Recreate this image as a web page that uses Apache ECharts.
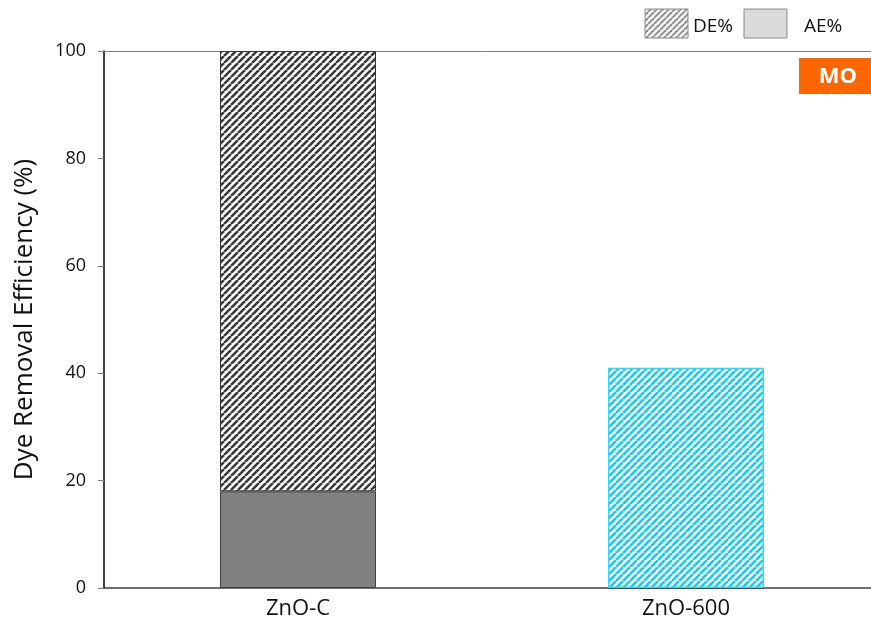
<!DOCTYPE html>
<html>
<head>
<meta charset="utf-8">
<script src="https://cdn.jsdelivr.net/npm/echarts@6/dist/echarts.min.js"></script>
<style>
  html, body { margin: 0; padding: 0; background: #fff; }
  #chart { width: 871px; height: 628px; }
</style>
</head>
<body>
<div id="chart"></div>
<script>
// Samples and removal efficiencies (%)
const categories = ['ZnO-C', 'ZnO-600'];
const aeValues = [18, 0];   // adsorption efficiency
const deValues = [82, 41];  // degradation efficiency (stacked on AE)
const yTicks = [0, 20, 40, 60, 80, 100];
const legendLabels = ['DE%', 'AE%'];
const tagText = 'MO';

const FONT = '"Open Sans", "Noto Sans", sans-serif';

// Diagonal stripe tile used for hatched fills
function stripes(color, bg, period, width) {
  const c = document.createElement('canvas');
  c.width = period; c.height = period;
  const g = c.getContext('2d');
  g.fillStyle = bg; g.fillRect(0, 0, period, period);
  g.strokeStyle = color; g.lineWidth = width;
  for (let k = -1; k <= 1; k++) {
    g.beginPath();
    g.moveTo(k * period, period);
    g.lineTo(k * period + period, 0);
    g.stroke();
  }
  return c;
}

const darkHatch = { image: stripes('#3a3a3a', '#ffffff', 7, 2.6), repeat: 'repeat' };
const cyanHatch = { image: stripes('#11ccf5', '#ffffff', 7, 2.6), repeat: 'repeat' };
const legendHatch = { image: stripes('#8c8c8c', '#f2f2f2', 6, 1.8), repeat: 'repeat' };

const chart = echarts.init(document.getElementById('chart'));

const deData = deValues.map((v, i) => i === 1
  ? { value: v, itemStyle: { color: cyanHatch, borderColor: '#33d6f7', borderWidth: 1.5 } }
  : { value: v });

chart.setOption({
  animation: false,
  backgroundColor: '#ffffff',
  textStyle: { fontFamily: FONT },
  // plot area runs slightly past the right edge of the canvas
  grid: { left: 104, width: 776, top: 51, bottom: 40, containLabel: false, outerBoundsMode: 'none' },
  xAxis: [{
    type: 'category',
    data: categories,
    axisLine: { show: true, lineStyle: { color: '#404040', width: 1.5 } },
    axisTick: { show: false },
    axisLabel: { fontFamily: FONT, fontSize: 22, color: '#111', margin: 10 }
  }, {
    type: 'category',
    position: 'top',
    data: categories,
    axisLine: { show: true, lineStyle: { color: '#7f7f7f', width: 1 } },
    axisTick: { show: false },
    axisLabel: { show: false }
  }],
  yAxis: {
    type: 'value',
    min: yTicks[0],
    max: yTicks[yTicks.length - 1],
    interval: 20,
    name: 'Dye Removal Efficiency (%)',
    nameLocation: 'middle',
    nameGap: 66,
    nameTextStyle: { fontFamily: FONT, fontSize: 26, color: '#111' },
    axisLine: { show: true, lineStyle: { color: '#000', width: 1.5 } },
    axisTick: { show: true, length: 6, lineStyle: { color: '#7f7f7f' } },
    axisLabel: {
      show: true,
      margin: 18,
      fontFamily: FONT,
      fontSize: 18,
      color: '#111'
    },
    splitLine: { show: false }
  },
  series: [{
    name: legendLabels[1],
    type: 'bar',
    stack: 'total',
    barWidth: 156,
    data: aeValues,
    itemStyle: { color: '#808080', borderColor: '#404040', borderWidth: 1 }
  }, {
    name: legendLabels[0],
    type: 'bar',
    stack: 'total',
    barWidth: 156,
    data: deData,
    itemStyle: { color: darkHatch, borderColor: '#333333', borderWidth: 1 }
  }],
  graphic: [
    { type: 'rect', shape: { x: 645, y: 9, width: 43, height: 29 },
      style: { fill: legendHatch, stroke: '#8c8c8c', lineWidth: 1 } },
    { type: 'text', x: 693, y: 27, style: { text: legendLabels[0], font: '19px ' + FONT, fill: '#111', verticalAlign: 'middle' } },
    { type: 'rect', shape: { x: 744, y: 9, width: 43, height: 29 },
      style: { fill: '#d9d9d9', stroke: '#8c8c8c', lineWidth: 1 } },
    { type: 'text', x: 804, y: 27, style: { text: legendLabels[1], font: '19px ' + FONT, fill: '#111', verticalAlign: 'middle' } },
    { type: 'rect', shape: { x: 799, y: 58, width: 72, height: 36 }, style: { fill: '#ff6600' } },
    { type: 'text', x: 838, y: 77, style: { text: tagText, font: 'bold 22px ' + FONT, fill: '#fff', align: 'center', verticalAlign: 'middle' } }
  ]
});
</script>
</body>
</html>
